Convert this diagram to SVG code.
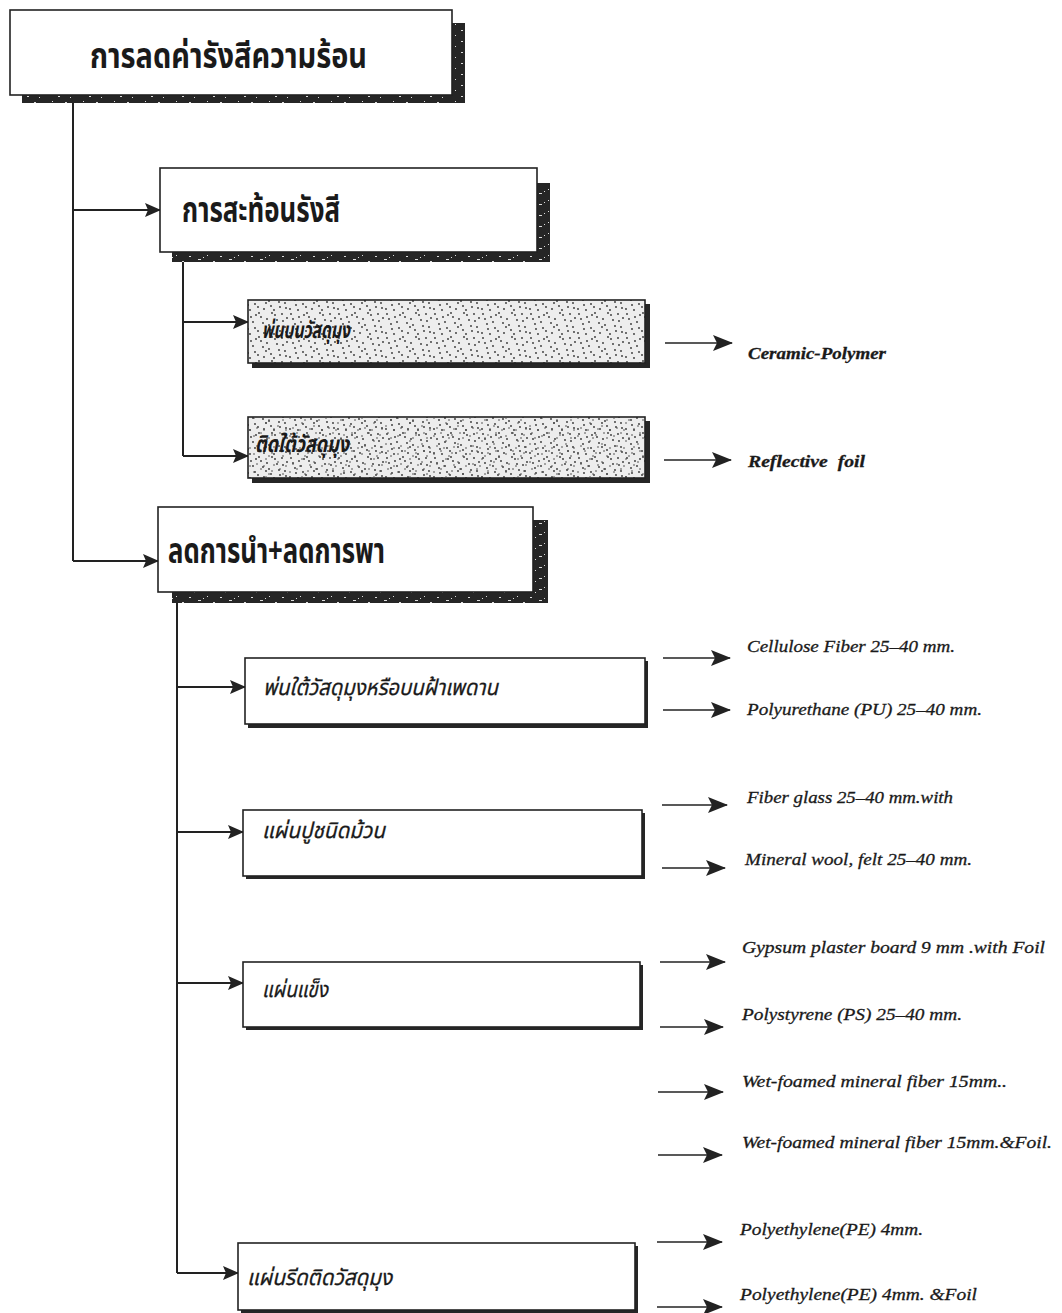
<svg xmlns="http://www.w3.org/2000/svg" width="1062" height="1313" viewBox="0 0 1062 1313">
<style>
.th{font-family:'Noto Sans Thai','Noto Sans','DejaVu Sans',sans-serif;fill:#1a1a1a}
.t1{font-size:35px;font-weight:bold}
.t2{font-size:23px;font-weight:bold;font-style:italic}
.t3{font-size:22px;font-style:italic;stroke:#1a1a1a;stroke-width:0.3}
.en{font-family:'Liberation Serif','Times New Roman',serif;font-style:italic;font-size:17px;fill:#1a1a1a;stroke:#1a1a1a;stroke-width:0.3}
.enb{font-weight:bold}
.box{fill:#fff;stroke:#222;stroke-width:1.6}
.shd{fill:#262626}
.sbox{fill:url(#spk);stroke:#222;stroke-width:1.6}
.ln{stroke:#222;stroke-width:2;fill:none}
.ra{stroke:#222;stroke-width:1.6;fill:none}
</style>
<defs>
<marker id="ah" markerUnits="userSpaceOnUse" markerWidth="16" markerHeight="14" refX="15" refY="7" orient="auto">
<path d="M0,0 L16,7 L0,14 L3,7 Z" fill="#222"/>
</marker>
<marker id="ahr" markerUnits="userSpaceOnUse" markerWidth="20" markerHeight="16" refX="19" refY="8" orient="auto">
<path d="M0,0 L20,8 L0,16 L4,8 Z" fill="#222"/>
</marker>
<pattern id="spk" width="48" height="24" patternUnits="userSpaceOnUse">
<rect width="48" height="24" fill="#ededed"/>
<g fill="#333">
<circle cx="3" cy="2" r="0.9"/><circle cx="11" cy="5" r="0.9"/><circle cx="19" cy="1" r="0.9"/><circle cx="27" cy="7" r="0.9"/><circle cx="35" cy="3" r="0.9"/><circle cx="43" cy="9" r="0.9"/><circle cx="7" cy="12" r="0.9"/><circle cx="15" cy="16" r="0.9"/><circle cx="23" cy="11" r="0.9"/><circle cx="31" cy="18" r="0.9"/><circle cx="39" cy="14" r="0.9"/><circle cx="46" cy="20" r="0.9"/><circle cx="2" cy="21" r="0.9"/><circle cx="10" cy="22" r="0.9"/><circle cx="18" cy="19" r="0.9"/><circle cx="26" cy="15" r="0.9"/><circle cx="34" cy="22" r="0.9"/><circle cx="42" cy="2" r="0.9"/><circle cx="5" cy="7" r="0.9"/><circle cx="13" cy="10" r="0.9"/><circle cx="21" cy="5" r="0.9"/><circle cx="29" cy="13" r="0.9"/><circle cx="37" cy="8" r="0.9"/><circle cx="45" cy="15" r="0.9"/><circle cx="8" cy="17" r="0.9"/><circle cx="16" cy="3" r="0.9"/><circle cx="24" cy="21" r="0.9"/><circle cx="32" cy="1" r="0.9"/><circle cx="40" cy="19" r="0.9"/><circle cx="47" cy="6" r="0.9"/>
</g>
</pattern>
<pattern id="spk2" width="36" height="18" patternUnits="userSpaceOnUse">
<g fill="#444">
<circle cx="2" cy="4" r="0.8"/><circle cx="9" cy="1" r="0.8"/><circle cx="14" cy="9" r="0.8"/><circle cx="20" cy="3" r="0.8"/><circle cx="26" cy="12" r="0.8"/><circle cx="31" cy="6" r="0.8"/><circle cx="5" cy="14" r="0.8"/><circle cx="12" cy="16" r="0.8"/><circle cx="22" cy="15" r="0.8"/><circle cx="34" cy="16" r="0.8"/><circle cx="17" cy="6" r="0.8"/><circle cx="28" cy="1" r="0.8"/>
</g>
</pattern>
<pattern id="grit" width="31" height="11" patternUnits="userSpaceOnUse">
<rect width="31" height="11" fill="#262626"/>
<g fill="#ddd">
<rect x="3" y="3" width="2" height="1"/><rect x="12" y="6" width="3" height="1"/><rect x="21" y="2" width="1" height="1"/><rect x="27" y="8" width="2" height="1"/><rect x="8" y="9" width="1" height="1"/><rect x="17" y="4" width="1" height="1"/>
</g>
</pattern>
</defs>

<g id="connectors">
<path class="ln" d="M73,102 V561"/>
<path class="ln" d="M73,210 H160" marker-end="url(#ah)"/>
<path class="ln" d="M73,561 H158" marker-end="url(#ah)"/>
<path class="ln" d="M183,262 V456"/>
<path class="ln" d="M183,322 H248" marker-end="url(#ah)"/>
<path class="ln" d="M183,456 H248" marker-end="url(#ah)"/>
<path class="ln" d="M177,603 V1273"/>
<path class="ln" d="M177,687 H245" marker-end="url(#ah)"/>
<path class="ln" d="M177,832 H243" marker-end="url(#ah)"/>
<path class="ln" d="M177,983 H243" marker-end="url(#ah)"/>
<path class="ln" d="M177,1273 H238" marker-end="url(#ah)"/>
<path class="ra" d="M665,343 H732" marker-end="url(#ahr)"/>
<path class="ra" d="M664,460 H731" marker-end="url(#ahr)"/>
<path class="ra" d="M663,658 H730" marker-end="url(#ahr)"/>
<path class="ra" d="M663,710 H730" marker-end="url(#ahr)"/>
<path class="ra" d="M662,805 H727" marker-end="url(#ahr)"/>
<path class="ra" d="M662,868 H725" marker-end="url(#ahr)"/>
<path class="ra" d="M660,962 H725" marker-end="url(#ahr)"/>
<path class="ra" d="M660,1027 H723" marker-end="url(#ahr)"/>
<path class="ra" d="M658,1092 H723" marker-end="url(#ahr)"/>
<path class="ra" d="M658,1155 H722" marker-end="url(#ahr)"/>
<path class="ra" d="M657,1242 H722" marker-end="url(#ahr)"/>
<path class="ra" d="M657,1307 H722" marker-end="url(#ahr)"/>
</g>

<g id="n-root">
<rect x="22" y="23" width="443" height="80" fill="url(#grit)"/>
<rect class="box" x="10" y="10" width="442" height="85"/>
<text class="th t1" x="90" y="68" textLength="277" lengthAdjust="spacingAndGlyphs">การลดค่ารังสีความร้อน</text>
</g>

<g id="n-reflect">
<rect x="172" y="183" width="378" height="79" fill="url(#grit)"/>
<rect class="box" x="160" y="168" width="377" height="84"/>
<text class="th t1" x="182" y="222" textLength="158" lengthAdjust="spacingAndGlyphs">การสะท้อนรังสี</text>
</g>

<g id="n-spray-top">
<rect class="shd" x="252" y="304" width="398" height="64"/>
<rect class="sbox" x="248" y="300" width="397" height="63"/>
<text class="th t2" x="262" y="338" textLength="88" lengthAdjust="spacingAndGlyphs">พ่นบนวัสดุมุง</text>
</g>

<g id="n-attach">
<rect class="shd" x="252" y="421" width="398" height="62"/>
<rect class="sbox" x="248" y="417" width="397" height="61"/>
<rect x="249" y="418" width="395" height="59" fill="url(#spk2)"/>
<text class="th t2" x="255" y="452" textLength="94" lengthAdjust="spacingAndGlyphs">ติดใต้วัสดุมุง</text>
</g>

<g id="n-reduce">
<rect x="172" y="520" width="376" height="83" fill="url(#grit)"/>
<rect class="box" x="158" y="507" width="375" height="85"/>
<text class="th t1" x="168" y="563" textLength="217" lengthAdjust="spacingAndGlyphs">ลดการนำ+ลดการพา</text>
</g>

<g id="n-spray-under">
<rect class="shd" x="248" y="661" width="400" height="67"/>
<rect class="box" x="245" y="658" width="400" height="66"/>
<text class="th t3" x="263" y="695" textLength="235" lengthAdjust="spacingAndGlyphs">พ่นใต้วัสดุมุงหรือบนฝ้าเพดาน</text>
</g>

<g id="n-roll">
<rect class="shd" x="246" y="813" width="399" height="66"/>
<rect class="box" x="243" y="810" width="399" height="66"/>
<text class="th t3" x="262" y="838" textLength="123" lengthAdjust="spacingAndGlyphs">แผ่นปูชนิดม้วน</text>
</g>

<g id="n-rigid">
<rect class="shd" x="246" y="965" width="397" height="65"/>
<rect class="box" x="243" y="962" width="397" height="65"/>
<text class="th t3" x="262" y="997" textLength="66" lengthAdjust="spacingAndGlyphs">แผ่นแข็ง</text>
</g>

<g id="n-sheet">
<rect class="shd" x="241" y="1246" width="397" height="67"/>
<rect class="box" x="238" y="1243" width="397" height="67"/>
<text class="th t3" x="247" y="1285" textLength="145" lengthAdjust="spacingAndGlyphs">แผ่นรีดติดวัสดุมุง</text>
</g>

<g id="labels">
<text class="en enb" x="748" y="359" textLength="138" lengthAdjust="spacingAndGlyphs">Ceramic-Polymer</text>
<text class="en enb" x="748" y="467" textLength="117" lengthAdjust="spacingAndGlyphs">Reflective&#160; foil</text>
<text class="en" x="747" y="652" textLength="208" lengthAdjust="spacingAndGlyphs">Cellulose Fiber 25–40 mm.</text>
<text class="en" x="747" y="715" textLength="235" lengthAdjust="spacingAndGlyphs">Polyurethane (PU) 25–40 mm.</text>
<text class="en" x="747" y="803" textLength="206" lengthAdjust="spacingAndGlyphs">Fiber glass 25–40 mm.with</text>
<text class="en" x="745" y="865" textLength="227" lengthAdjust="spacingAndGlyphs">Mineral wool, felt 25–40 mm.</text>
<text class="en" x="742" y="953" textLength="303" lengthAdjust="spacingAndGlyphs">Gypsum plaster board 9 mm .with Foil</text>
<text class="en" x="742" y="1020" textLength="220" lengthAdjust="spacingAndGlyphs">Polystyrene (PS) 25–40 mm.</text>
<text class="en" x="742" y="1087" textLength="265" lengthAdjust="spacingAndGlyphs">Wet-foamed mineral fiber 15mm..</text>
<text class="en" x="742" y="1148" textLength="310" lengthAdjust="spacingAndGlyphs">Wet-foamed mineral fiber 15mm.&amp;Foil.</text>
<text class="en" x="740" y="1235" textLength="183" lengthAdjust="spacingAndGlyphs">Polyethylene(PE) 4mm.</text>
<text class="en" x="740" y="1300" textLength="237" lengthAdjust="spacingAndGlyphs">Polyethylene(PE) 4mm. &amp;Foil</text>
</g>
</svg>
